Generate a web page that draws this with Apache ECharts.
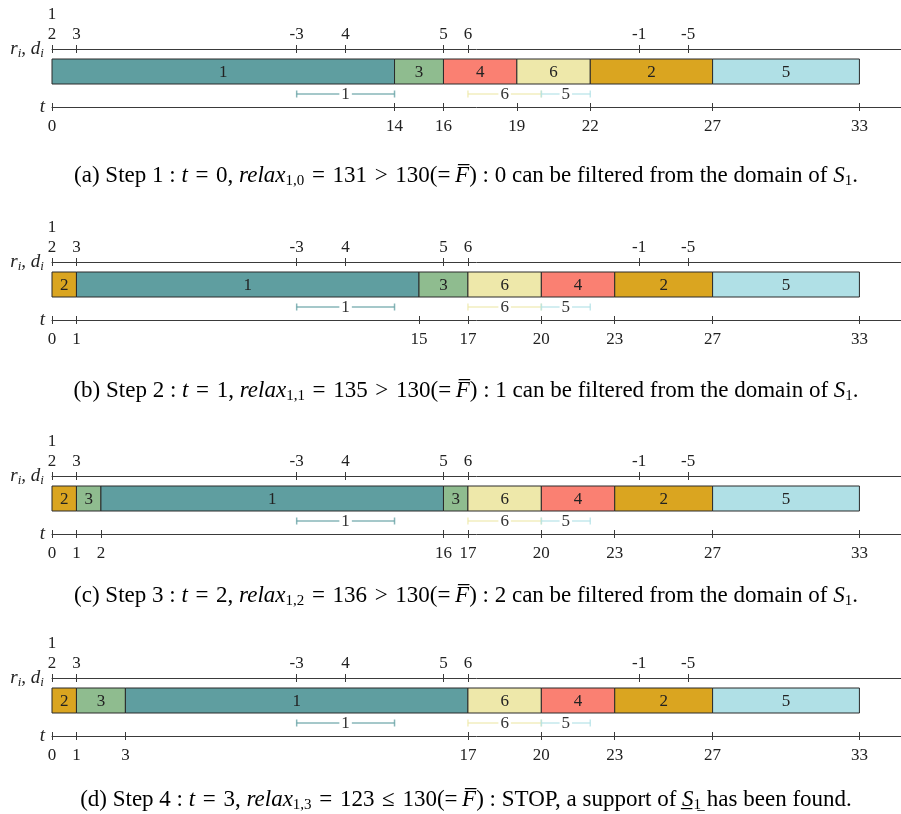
<!DOCTYPE html>
<html>
<head>
<meta charset="utf-8">
<script src="https://cdn.jsdelivr.net/npm/echarts@6/dist/echarts.min.js"></script>
<style>
html,body{margin:0;padding:0;background:#fff;}
#chart{width:901px;height:814px;}
</style>
</head>
<body>
<div id="chart"></div>
<script>
// ---- data ----
const taskColors = {1:'#5F9EA0', 2:'#DAA520', 3:'#8FBC8F', 4:'#FA8072', 5:'#B0E0E6', 6:'#EEE8AA'};

const rdTickValues = [0, 1, 10, 12, 16, 17, 24, 26];
const rdTickLabels = ['1\n2', '3', '-3', '4', '5', '6', '-1', '-5'];

const stepA_tasks  = [1, 3, 4, 6, 2, 5];
const stepA_bounds = [0, 14, 16, 19, 22, 27, 33];
const stepB_tasks  = [2, 1, 3, 6, 4, 2, 5];
const stepB_bounds = [0, 1, 15, 17, 20, 23, 27, 33];
const stepC_tasks  = [2, 3, 1, 3, 6, 4, 2, 5];
const stepC_bounds = [0, 1, 2, 16, 17, 20, 23, 27, 33];
const stepD_tasks  = [2, 3, 1, 6, 4, 2, 5];
const stepD_bounds = [0, 1, 3, 17, 20, 23, 27, 33];

const intervalTasks = [1, 6, 5];
const intervalFrom  = [10, 17, 20];
const intervalTo    = [14, 20, 22];

const EQ = '\u2004=\u2004', GT = '\u2004>\u2004', LE = '\u2004\u2264\u2004';
const captionA = '{n|(a) Step 1 : }{i|t}{n|' + EQ + '0, }{i|relax}{s|1,0}{n|' + EQ + '131' + GT + '130(=\u2009}{i|F\u0305}{n|) : 0 can be filtered from the domain of }{i|S}{s|1}{n|.}';
const captionB = '{n|(b) Step 2 : }{i|t}{n|' + EQ + '1, }{i|relax}{s|1,1}{n|' + EQ + '135' + GT + '130(=\u2009}{i|F\u0305}{n|) : 1 can be filtered from the domain of }{i|S}{s|1}{n|.}';
const captionC = '{n|(c) Step 3 : }{i|t}{n|' + EQ + '2, }{i|relax}{s|1,2}{n|' + EQ + '136' + GT + '130(=\u2009}{i|F\u0305}{n|) : 2 can be filtered from the domain of }{i|S}{s|1}{n|.}';
const captionD = '{n|(d) Step 4 : }{i|t}{n|' + EQ + '3, }{i|relax}{s|1,3}{n|' + EQ + '123' + LE + '130(=\u2009}{i|F\u0305}{n|) : STOP, a support of }{i|S\u0332}{s|1\u0332}{n| has been found.}';

// ---- layout ----
const steps = [
  {tasks: stepA_tasks, bounds: stepA_bounds, caption: captionA},
  {tasks: stepB_tasks, bounds: stepB_bounds, caption: captionB},
  {tasks: stepC_tasks, bounds: stepC_bounds, caption: captionC},
  {tasks: stepD_tasks, bounds: stepD_bounds, caption: captionD}
];
const panelTops = [49, 262, 476, 678];
const captionY = [176, 391, 596, 800];
const PANEL_H = 58;
const BAR_Y0 = 10, BAR_Y1 = 35, INT_Y = 45;
const X_MAX = 34.7;
const FONT = 'Liberation Serif';
const TXT = '#222';
const AXC = '#3a3a3a';

const grids = [], xAxes = [], yAxes = [], series = [], graphics = [];

function mkAxis(g, pos, values, labels, withLine, inside, name) {
  const ax = {
    gridIndex: g, type: 'value', position: pos, min: 0, max: X_MAX,
    splitLine: {show: false},
    axisLine: {show: withLine, onZero: false, lineStyle: {color: AXC, width: 1}},
    axisTick: {show: true, inside: inside, length: 4, customValues: values, lineStyle: {color: AXC, width: 1}},
    axisLabel: {show: withLine, customValues: values, margin: pos === 'top' ? 4 : 10,
      fontFamily: FONT, fontSize: 17, color: TXT, lineHeight: 20,
      formatter: function (v) { const i = values.indexOf(v); return i >= 0 ? labels[i] : ''; }},
    silent: true
  };
  if (name) {
    ax.name = name;
    ax.nameLocation = 'start';
    ax.nameGap = 7;
    ax.nameTextStyle = {fontFamily: FONT, fontSize: 19, color: TXT, fontStyle: 'italic',
      rich: {a: {fontFamily: FONT, fontSize: 19, fontStyle: 'italic', color: TXT},
             b: {fontFamily: FONT, fontSize: 13, fontStyle: 'italic', color: TXT, padding: [9, 0, 0, 0]}}};
  }
  return ax;
}

steps.forEach(function (st, g) {
  grids.push({left: 52, width: 849, top: panelTops[g], height: PANEL_H, containLabel: false});
  yAxes.push({gridIndex: g, type: 'value', min: 0, max: PANEL_H, inverse: true, show: false});
  const bl = st.bounds.map(String);
  xAxes.push(mkAxis(g, 'top', rdTickValues, rdTickLabels, true, false, '{a|r}{b|i}{a|, d}{b|i}'));
  xAxes.push(mkAxis(g, 'top', rdTickValues, rdTickLabels, false, true, null));
  xAxes.push(mkAxis(g, 'bottom', st.bounds, bl, true, false, '{a|t}'));
  xAxes.push(mkAxis(g, 'bottom', st.bounds, bl, false, true, null));

  const barData = st.tasks.map(function (t, i) { return [st.bounds[i], st.bounds[i + 1], t]; });
  series.push({
    type: 'custom', xAxisIndex: g * 4, yAxisIndex: g, data: barData, silent: true,
    renderItem: function (params, api) {
      const p0 = api.coord([api.value(0), BAR_Y0]);
      const p1 = api.coord([api.value(1), BAR_Y1]);
      const task = api.value(2);
      return {type: 'group', children: [
        {type: 'rect', shape: {x: p0[0], y: p0[1], width: p1[0] - p0[0], height: p1[1] - p0[1]},
         style: {fill: taskColors[task], stroke: '#2a2a2a', lineWidth: 1}},
        {type: 'text', x: (p0[0] + p1[0]) / 2, y: (p0[1] + p1[1]) / 2 + 1,
         style: {text: String(task), align: 'center', verticalAlign: 'middle', fill: TXT,
                 font: '17px "' + FONT + '"'}}
      ]};
    }
  });

  const intData = intervalTasks.map(function (t, i) { return [intervalFrom[i], intervalTo[i], t]; });
  series.push({
    type: 'custom', xAxisIndex: g * 4, yAxisIndex: g, data: intData, silent: true,
    renderItem: function (params, api) {
      const p0 = api.coord([api.value(0), INT_Y]);
      const p1 = api.coord([api.value(1), INT_Y]);
      const task = api.value(2);
      const col = taskColors[task];
      const ls = {stroke: col, lineWidth: 1.5, opacity: 0.75};
      return {type: 'group', children: [
        {type: 'line', shape: {x1: p0[0], y1: p0[1], x2: p1[0], y2: p1[1]}, style: ls},
        {type: 'line', shape: {x1: p0[0], y1: p0[1] - 3.5, x2: p0[0], y2: p0[1] + 3.5}, style: ls},
        {type: 'line', shape: {x1: p1[0], y1: p1[1] - 3.5, x2: p1[0], y2: p1[1] + 3.5}, style: ls},
        {type: 'text', x: (p0[0] + p1[0]) / 2, y: p0[1] + 1,
         style: {text: String(task), align: 'center', verticalAlign: 'middle', fill: '#333',
                 font: '17px "' + FONT + '"', backgroundColor: '#fff', padding: [0, 2]}}
      ]};
    }
  });

  graphics.push({
    type: 'text', x: 466, y: captionY[g],
    style: {text: st.caption, align: 'center', verticalAlign: 'middle',
      rich: {
        n: {fontFamily: FONT, fontSize: 23, color: '#111'},
        i: {fontFamily: FONT, fontSize: 23, fontStyle: 'italic', color: '#111'},
        s: {fontFamily: FONT, fontSize: 15, color: '#111', padding: [10, 0, 0, 0]}
      }}
  });
});

const chart = echarts.init(document.getElementById('chart'), null, {renderer: 'canvas'});
chart.setOption({
  animation: false,
  backgroundColor: '#fff',
  grid: grids, xAxis: xAxes, yAxis: yAxes, series: series, graphic: graphics
});
</script>
</body>
</html>
